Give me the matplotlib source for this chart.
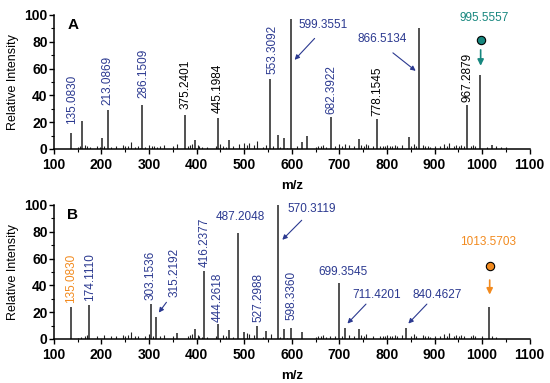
import matplotlib.pyplot as plt
from matplotlib.ticker import MultipleLocator

plt.rcParams['font.family'] = ['Liberation Sans', 'DejaVu Sans']

blue = '#2b3990'
teal = '#17877f'
orange = '#f28a1e'

# ---- panel A peaks (m/z, relative intensity)
a_mz = [135.08, 160.1, 201.1, 213.09, 286.15, 375.24, 397.2, 445.20, 468.3, 553.31,
        570.3, 583.3, 599.36, 621.3, 632.3, 682.39, 740.4, 778.15, 845.4, 866.51,
        967.29, 995.56, 1020.5]
a_int = [12, 21, 8.5, 29, 33, 25.4, 7, 23.4, 6.7, 52,
         10.4, 8, 97, 5, 9.7, 23.6, 7.5, 22.4, 8.7, 90,
         32.8, 55, 3]
a_noise_mz = [150, 155, 165, 170, 175, 190, 196, 206, 220, 230, 246, 250, 255, 262, 270,
              276, 281, 292, 300, 306, 311, 316, 322, 331, 350, 358, 381, 386, 391, 402,
              406, 411, 421, 440, 450, 456, 461, 476, 490, 500, 506, 511, 520, 527, 540,
              546, 560, 576, 590, 611, 651, 656, 661, 666, 671, 691, 700, 706, 711, 721,
              731, 746, 751, 756, 761, 771, 786, 791, 796, 801, 806, 811, 816, 821, 831,
              851, 856, 861, 876, 881, 886, 891, 901, 911, 921, 926, 931, 941, 946, 951,
              956, 961, 976, 981, 986, 1010, 1030, 1040, 1050]
a_noise_int = [1.5, 2, 3, 2.5, 1.5, 2, 1.5, 2.5, 1.5, 2, 3, 2.5, 2, 5, 1.5,
               2, 1, 1.5, 3, 2.5, 2, 1.5, 2.5, 3, 2, 4, 2.5, 3, 4, 3,
               2, 1.5, 1.5, 2.5, 3.5, 2.5, 1.5, 2, 4, 4.5, 3, 4.5, 3, 6, 1.5,
               3, 2.5, 1.5, 1, 2, 1.5, 2.5, 2, 3, 1.5, 2.5, 3.5, 2, 4, 3,
               2, 3, 2.5, 4, 3, 2, 2.5, 2, 2.5, 3, 2, 2.5, 3, 2.5, 3,
               2.5, 3.5, 2, 3, 2, 2.5, 1.5, 2.5, 2, 4, 2, 4.5, 2.5, 3, 2,
               3, 2.5, 2.5, 3, 2, 1.5, 2.5, 1.5, 1.5]

# ---- panel B peaks
b_mz = [135.08, 174.11, 303.15, 315.22, 358.2, 397.2, 416.24, 444.26, 468.3, 487.20,
        500.3, 527.30, 545.3, 570.31, 583.3, 598.34, 621.3, 699.35, 711.42, 740.4,
        840.46, 1013.57]
b_int = [23.6, 25.4, 26, 16.7, 4.7, 7.2, 51, 11, 6.7, 79.4,
         5, 9.7, 6, 100, 7.2, 8.5, 5.2, 42, 8, 7.5,
         8.5, 24]
b_noise_mz = [150, 156, 165, 170, 190, 206, 220, 230, 246, 250, 256, 262, 270, 276,
              292, 300, 308, 322, 331, 350, 381, 386, 391, 402, 406, 411, 421, 440,
              456, 461, 476, 506, 511, 520, 540, 556, 576, 590, 651, 656, 661, 666,
              671, 681, 691, 706, 721, 731, 746, 751, 756, 771, 786, 791, 796, 801,
              806, 811, 816, 821, 831, 851, 856, 861, 876, 881, 886, 891, 901, 911,
              921, 926, 931, 941, 946, 951, 956, 961, 976, 981, 986, 1000, 1020, 1030]
b_noise_int = [1, 1.5, 2.5, 3, 2, 3, 2, 2, 3, 2.5, 3, 5, 2, 2.5,
               2, 3.5, 2, 2.5, 3, 2, 2.5, 3, 4, 3, 2, 1.5, 1.5, 2,
               3, 2, 1.5, 4.5, 4, 3, 1.5, 4, 1.5, 1, 1.5, 2.5, 2, 3,
               1.5, 2, 2.5, 2.5, 3, 2, 3, 2.5, 4, 2, 2.5, 2, 2.5, 3,
               2, 2.5, 3, 2.5, 3, 2.5, 3.5, 2, 3, 2, 2.5, 1.5, 2.5, 2,
               4, 2, 4.5, 2.5, 3, 2, 3, 2.5, 2.5, 3, 2, 2, 2.5, 1.5]

# rotated labels: (text, x, y, colour)
a_vlabels = [("135.0830", 139, 19, blue), ("213.0869", 213, 33, blue),
             ("286.1509", 289, 38, blue), ("375.2401", 376, 30, 'black'),
             ("445.1984", 445, 27, 'black'), ("553.3092", 559, 56, blue),
             ("682.3922", 684, 26, blue), ("778.1545", 779, 24.5, 'black'),
             ("967.2879", 970, 35, 'black')]
b_vlabels = [("135.0830", 135, 26.5, orange), ("174.1110", 176, 28, blue),
             ("303.1536", 304, 29, blue), ("315.2192", 354, 31.5, blue),
             ("416.2377", 416, 54, blue), ("444.2618", 445, 13, blue),
             ("527.2988", 529, 13, blue), ("598.3360", 599, 14, blue)]

# horizontal labels, with an optional arrow: (text, text x, text y, arrow start, arrow end, colour)
a_arrows = [("599.3551", 666, 92.5, (652, 84), (602, 65), blue),
            ("866.5134", 791, 82, (808, 73), (865, 57), blue)]
b_arrows = [("570.3119", 641, 96.8, (625, 90), (576, 72.5), blue),
            ("699.3545", 707, 50, None, None, blue),
            ("487.2048", 491, 91.3, None, None, blue),
            ("711.4201", 779, 33, (760, 27.5), (713, 10), blue),
            ("840.4627", 905, 33, (888, 27.5), (841, 10), blue)]
# arrow for the rotated 315.2192 label
b_extra_arrows = [((340, 29), (317, 18), blue)]


def draw(ax, mz, inten, nmz, nint, letter):
    ax.vlines(nmz, 0, nint, color='#222222', lw=0.8)
    ax.vlines(mz, 0, inten, color='#222222', lw=1.1, clip_on=False)
    ax.set_xlim(100, 1100)
    ax.set_ylim(0, 100)
    ax.spines['top'].set_visible(False)
    ax.spines['right'].set_visible(False)
    ax.spines['left'].set_linewidth(1.1)
    ax.spines['bottom'].set_linewidth(1.1)
    ax.xaxis.set_major_locator(MultipleLocator(100))
    ax.xaxis.set_minor_locator(MultipleLocator(50))
    ax.yaxis.set_major_locator(MultipleLocator(20))
    ax.yaxis.set_minor_locator(MultipleLocator(10))
    ax.tick_params(which='major', length=3.5, width=1, labelsize=10)
    ax.tick_params(axis='x', pad=3)
    ax.tick_params(axis='y', pad=1)
    ax.tick_params(which='minor', length=2, width=0.8)
    for lab in ax.get_xticklabels() + ax.get_yticklabels():
        lab.set_fontweight('bold')
    ax.set_ylabel("Relative Intensity", fontsize=9, labelpad=4)
    ax.set_xlabel("m/z", fontsize=9.5, fontweight='bold', labelpad=6)
    ax.text(140, 92.5, letter, fontsize=11, fontweight='bold', ha='center', va='center')


fig = plt.figure(figsize=(5.5, 3.83), dpi=100)
axA = fig.add_axes([0.098, 0.611, 0.865, 0.350])
axB = fig.add_axes([0.098, 0.115, 0.865, 0.350])

draw(axA, a_mz, a_int, a_noise_mz, a_noise_int, "A")
draw(axB, b_mz, b_int, b_noise_mz, b_noise_int, "B")

for ax, vl, ar in [(axA, a_vlabels, a_arrows), (axB, b_vlabels, b_arrows)]:
    for t, x, y, c in vl:
        ax.text(x, y, t, rotation=90, ha='center', va='bottom', color=c, fontsize=8.5)
    for t, tx, ty, p0, p1, c in ar:
        ax.text(tx, ty, t, ha='center', va='center', color=c, fontsize=8.5)
        if p0 is not None:
            ax.annotate('', xy=p1, xytext=p0,
                        arrowprops=dict(arrowstyle='-|>', color=c, lw=0.8, mutation_scale=7))

for p0, p1, c in b_extra_arrows:
    axB.annotate('', xy=p1, xytext=p0,
                 arrowprops=dict(arrowstyle='-|>', color=c, lw=0.8, mutation_scale=7))

# precursor ions
axA.text(1005, 97.6, "995.5557", ha='center', va='center', color=teal, fontsize=8.5, clip_on=False)
axA.plot(997, 81, 'o', ms=6, mfc=teal, mec='black', mew=0.8, clip_on=False)
axA.annotate('', xy=(997, 60), xytext=(997, 76),
             arrowprops=dict(arrowstyle='-|>', color=teal, lw=1.2, mutation_scale=9))

axB.text(1012, 72, "1013.5703", ha='center', va='center', color=orange, fontsize=8.5)
axB.plot(1016, 54.5, 'o', ms=6, mfc=orange, mec='black', mew=0.8)
axB.annotate('', xy=(1016, 31), xytext=(1016, 46),
             arrowprops=dict(arrowstyle='-|>', color=orange, lw=1.2, mutation_scale=9))

fig.savefig("out.png", dpi=100)
